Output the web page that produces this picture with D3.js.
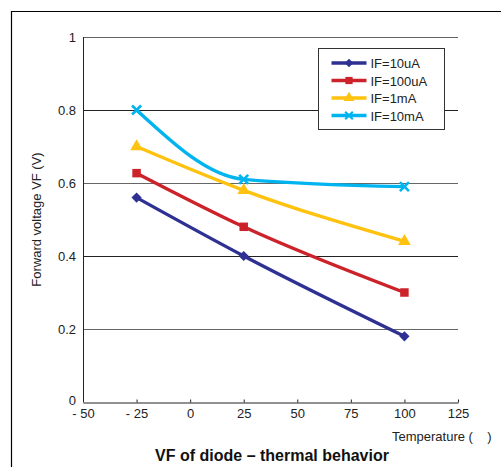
<!DOCTYPE html>
<html>
<head>
<meta charset="utf-8">
<script src="https://cdn.jsdelivr.net/npm/d3@7"></script>
<style>
  body { margin: 0; background: #fff; }
  svg { display: block; font-family: "Liberation Sans", Arial, sans-serif; }
</style>
</head>
<body>
<div id="chart"></div>
<script>
// data
const temps = [-25, 25, 100];
const seriesNames = ["IF=10uA", "IF=100uA", "IF=1mA", "IF=10mA"];
const vf10uA = [0.56, 0.40, 0.18];
const vf100uA = [0.627, 0.48, 0.30];
const vf1mA = [0.70, 0.58, 0.44];
const vf10mA = [0.80, 0.61, 0.59];
const colors = ["#2e3192", "#cc2229", "#ffc20e", "#00b4ef"];
const xTicks = [-50, -25, 0, 25, 50, 75, 100, 125];
const yTicks = [0, 0.2, 0.4, 0.6, 0.8, 1];

const allSeries = [vf10uA, vf100uA, vf1mA, vf10mA];

const width = 501, height = 467;
const svg = d3.select("#chart").append("svg")
  .attr("width", width).attr("height", height);

// outer frame (left + top only visible)
svg.append("path")
  .attr("d", `M11.5,${height} V11.5 H${width}`)
  .attr("fill", "none").attr("stroke", "#000").attr("stroke-width", 1.2);

const x = d3.scaleLinear().domain([-50, 125]).range([83, 458]);
const y = d3.scaleLinear().domain([0, 1]).range([402, 37]);

// grid lines
svg.append("g").selectAll("line")
  .data(yTicks.filter(d => d > 0))
  .join("line")
  .attr("x1", x(-50)).attr("x2", x(125))
  .attr("y1", d => Math.round(y(d)) + 0.5).attr("y2", d => Math.round(y(d)) + 0.5)
  .attr("stroke", (d, i) => i % 2 === 0 ? "#666" : "#222")
  .attr("stroke-width", 1);

// left axis line
svg.append("line")
  .attr("x1", x(-50) + 0.5).attr("x2", x(-50) + 0.5)
  .attr("y1", y(1)).attr("y2", y(0))
  .attr("stroke", "#222");

// y tick labels
svg.append("g").selectAll("text")
  .data(yTicks)
  .join("text")
  .attr("x", 76).attr("y", d => y(d) + (d === 0 ? 3 : 4.5))
  .attr("text-anchor", "end")
  .attr("font-size", 13).attr("fill", "#222")
  .text(d => d3.format("~g")(d));

// x axis
const xAxis = d3.axisBottom(x).tickValues(xTicks).tickSize(-3).tickSizeOuter(0)
  .tickFormat(d => d < 0 ? "- " + Math.abs(d) : d);
const gx = svg.append("g").attr("transform", `translate(0,${Math.round(y(0)) + 0.5})`).call(xAxis);
gx.select(".domain").attr("stroke", "#222");
gx.selectAll(".tick line").attr("stroke", "#222");
gx.selectAll(".tick text").attr("y", 6).attr("dy", "0.71em")
  .attr("font-size", 13).attr("fill", "#222")
  .attr("font-family", "Liberation Sans, Arial, sans-serif");

// axis titles
svg.append("text")
  .attr("transform", `translate(41,${y(0.5)}) rotate(-90)`)
  .attr("text-anchor", "middle").attr("font-size", 13).attr("fill", "#222")
  .text("Forward voltage VF (V)");

svg.append("text")
  .attr("x", 392).attr("y", 441)
  .attr("font-size", 13).attr("fill", "#222")
  .attr("xml:space", "preserve")
  .text("Temperature (    )");

svg.append("text")
  .attr("x", 272).attr("y", 461)
  .attr("text-anchor", "middle").attr("font-size", 16).attr("font-weight", "bold")
  .attr("fill", "#111")
  .text("VF of diode \u2013 thermal behavior");

// series lines
const line = d3.line()
  .x((d, i) => x(temps[i]))
  .y(d => y(d))
  .curve(d3.curveMonotoneX);

// markers: diamond (rotated square), square, triangle, cross
function drawMarker(g, si, cx, cy, scale) {
  const c = colors[si];
  const t = g.append("g").attr("transform", `translate(${cx},${cy}) scale(${scale})`);
  if (si === 0) {
    t.append("path").attr("d", d3.symbol().type(d3.symbolSquare).size(52)())
      .attr("transform", "rotate(45)").attr("fill", c);
  } else if (si === 1) {
    t.append("path").attr("d", d3.symbol().type(d3.symbolSquare).size(72)()).attr("fill", c);
  } else if (si === 2) {
    t.append("path").attr("d", d3.symbol().type(d3.symbolTriangle).size(70)()).attr("fill", c);
  } else {
    t.append("path").attr("d", "M-4.5,-4.5L4.5,4.5M-4.5,4.5L4.5,-4.5")
      .attr("stroke", c).attr("stroke-width", 2.6).attr("fill", "none");
  }
}

allSeries.forEach((vals, si) => {
  const g = svg.append("g");
  g.append("path")
    .attr("d", line(vals))
    .attr("fill", "none")
    .attr("stroke", colors[si])
    .attr("stroke-width", 3.4);
  vals.forEach((v, i) => drawMarker(g, si, x(temps[i]), y(v), 1));
});

// legend
const lg = svg.append("g").attr("transform", "translate(318.5,48.5)");
lg.append("rect").attr("width", 126).attr("height", 81)
  .attr("fill", "#fff").attr("stroke", "#333").attr("stroke-width", 1);
seriesNames.forEach((name, si) => {
  const ly = 14.5 + si * 17.5;
  lg.append("line").attr("x1", 13).attr("x2", 48).attr("y1", ly).attr("y2", ly)
    .attr("stroke", colors[si]).attr("stroke-width", 3.4);
  drawMarker(lg, si, 30.5, ly, 0.85);
  lg.append("text").attr("x", 52).attr("y", ly + 5)
    .attr("font-size", 13).attr("fill", "#222")
    .text(name);
});
</script>
</body>
</html>
